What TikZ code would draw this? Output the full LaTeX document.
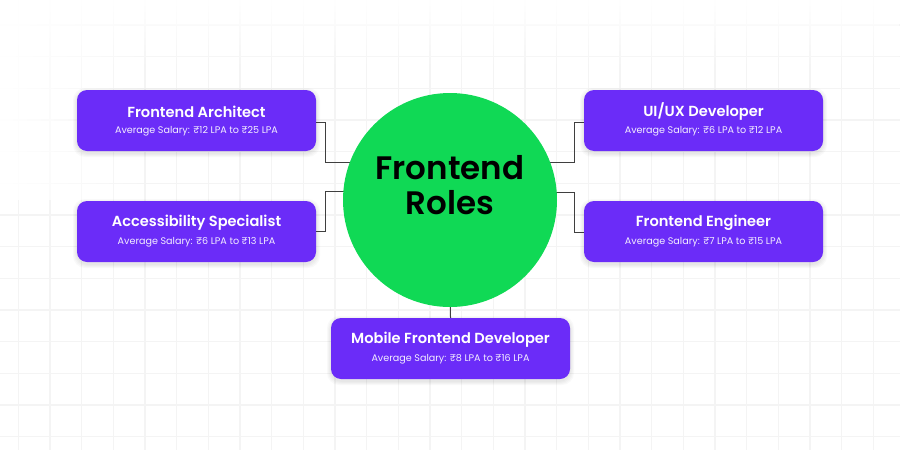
\documentclass[tikz,border=0pt]{standalone}
\usepackage{fontspec}
\setmainfont{Poppins}
\newfontfamily\titlefont{Poppins SemiBold}
\usetikzlibrary{fadings}
\definecolor{rolepurple}{HTML}{6B2CF8}
\definecolor{rolegreen}{HTML}{10D955}
\definecolor{linkgray}{HTML}{3F3F3F}
\definecolor{gridgray}{HTML}{F4F4F4}
\tikzset{
  rolebox/.style={fill=rolepurple, rounded corners=10pt, minimum width=239pt, minimum height=61pt, inner sep=0pt},
  softshadow/.style={fill=black, opacity=0.025, rounded corners=12pt},
  roletitle/.style={text=white, font=\titlefont\fontsize{14.6}{16}\selectfont, anchor=center},
  rolesub/.style={text=white!92!rolepurple, font=\fontsize{9.6}{11}\selectfont, anchor=center},
  link/.style={draw=linkgray, line width=1pt},
  hub/.style={circle, fill=rolegreen, minimum size=214pt, inner sep=0pt}
}
\begin{document}
\begin{tikzpicture}[x=1pt,y=-1pt]
\useasboundingbox (0,0) rectangle (900,450);
\fill[white] (0,0) rectangle (900,450);
% grid
\foreach \i in {0,...,28} {
  \draw[gridgray, line width=1.6pt] ({18.3+31.667*\i},0) -- ({18.3+31.667*\i},450);
}
\foreach \j in {0,...,13} {
  \draw[gridgray, line width=1.6pt] (0,{25+31.667*\j}) -- (900,{25+31.667*\j});
}
\fill[white, path fading=south] (0,-1) rectangle (900,70);
\fill[white, path fading=east] (-1,0) rectangle (150,200);

\coordinate (hubc) at (450,200);

% soft shadows
\foreach \cx/\cy in {196.5/120.5, 196.5/231.5, 703.5/120.5, 703.5/231.5, 450.5/348.5} {
  \foreach \e in {1,2,3,4} {
    \fill[softshadow] ({\cx-119.5-\e},{\cy-30.5-\e+2}) rectangle ({\cx+119.5+\e},{\cy+30.5+\e+2});
  }
}

% boxes
\node[rolebox] (fa) at (196.5,120.5) {};
\node[roletitle] (fat) at (196.5,112) {Frontend Architect};
\node[rolesub] (fas) at (196.5,131) {Average Salary: ₹12 LPA to ₹25 LPA};

\node[rolebox] (as) at (196.5,231.5) {};
\node[roletitle] (ast) at (196.5,223) {Accessibility Specialist};
\node[rolesub] (ass) at (196.5,242) {Average Salary: ₹6 LPA to ₹13 LPA};

\node[rolebox] (ux) at (703.5,120.5) {};
\node[roletitle] (uxt) at (703.5,112) {UI/UX Developer};
\node[rolesub] (uxs) at (703.5,131) {Average Salary: ₹6 LPA to ₹12 LPA};

\node[rolebox] (fe) at (703.5,231.5) {};
\node[roletitle] (fet) at (703.5,223) {Frontend Engineer};
\node[rolesub] (fes) at (703.5,242) {Average Salary: ₹7 LPA to ₹15 LPA};

\node[rolebox] (mf) at (450.5,348.5) {};
\node[roletitle] (mft) at (450.5,340) {Mobile Frontend Developer};
\node[rolesub] (mfs) at (450.5,359) {Average Salary: ₹8 LPA to ₹16 LPA};

% connectors (drawn before the hub so it covers their ends)
\draw[link] (fa.east |- 0,122) -| (325.5,162) -- (hubc |- 0,162);
\draw[link] (as.east |- 0,231) -| (325.5,191) -- (hubc |- 0,191);
\draw[link] (ux.west |- 0,122) -| (574.5,162) -- (hubc |- 0,162);
\draw[link] (fe.west |- 0,232) -| (574.5,192) -- (hubc |- 0,192);
\draw[link] (hubc) -- (mf.north);

% hub
\node[hub] (hub) at (hubc) {};
\node[font=\titlefont\fontsize{32.5}{36}\selectfont, align=center, text=black] (hubtext) at (450,185) {Frontend\\[-1pt]Roles};
\end{tikzpicture}
\end{document}
